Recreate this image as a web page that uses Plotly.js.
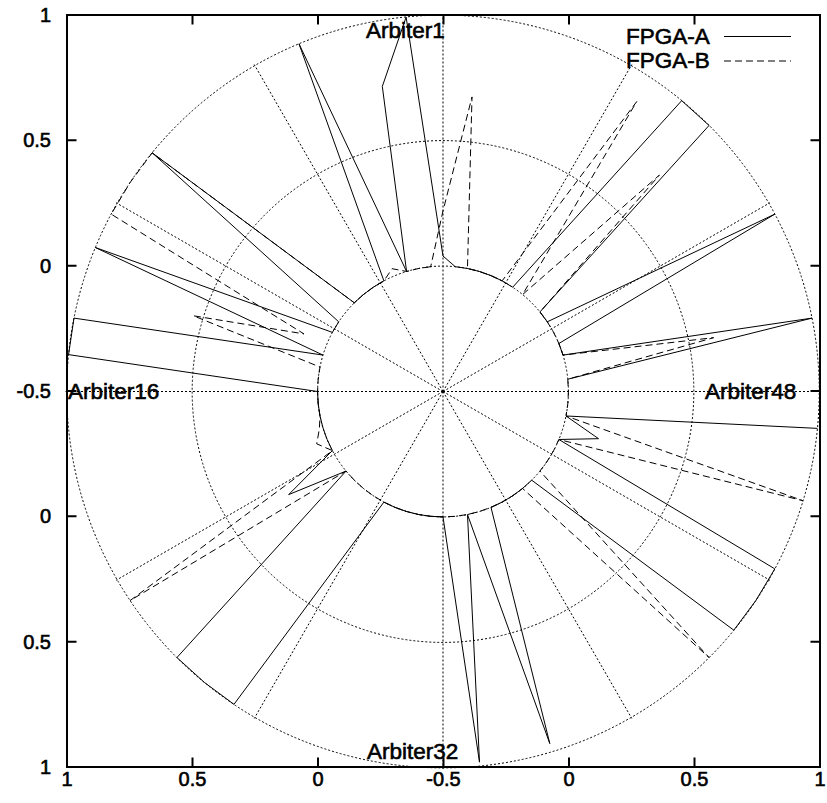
<!DOCTYPE html>
<html><head><meta charset="utf-8">
<script src="https://cdn.plot.ly/plotly-3.0.1.min.js"></script>
<style>
html,body{margin:0;padding:0;background:#fff}
#chart svg text{stroke:#000;stroke-width:0.6px;paint-order:stroke}
</style>
</head><body>
<div id="chart" style="width:827px;height:803px"></div>
<script>
// arbiter index (angle = index * 360/64, counter-clockwise from top)
const arbiters = [1,2,3,4,5,6,7,8,9,10,11,12,13,14,15,16,17,18,19,20,21,22,23,24,25,26,27,28,29,30,31,32,
                  33,34,35,36,37,38,39,40,41,42,43,44,45,46,47,48,49,50,51,52,53,54,55,56,57,58,59,60,61,62,63,64];
const fpgaA = [1.0,0.74,0,1.0,0,0,0,0,1.0,0,0,1.0,0,1.0,1.0,0,
               0,0,0,0,0,0.24,0,1.0,1.0,1.0,0,0,0,0,0,0,
               0.985,0,0.967,0,0,0,0,0,1.0,1.0,1.0,0,0.148,0,1.0,null,
               0,1.0,0,0,1.0,0,0,1.0,1.0,0,0,0,0,0,0,0.04];
const fpgaB = [0,0,0,0.03,0,0,0,0,1.0,1.0,1.0,0.1,0.54,0,0,0,
               0,0,0.015,0.045,0,1.0,0,0,0,0,0,0,0,0,0,0,
               0,0,0,0,0,0,0,1.0,0,0,0,0,1.0,0,0,0,
               0,0.6,0,0,0,0,0,0.72,0,0.89,0,0,0,0,0.68,0.22];
const seriesNames = ['FPGA-A','FPGA-B'];
const axisRange = [-1.5,1.5];
const axisTickVals = [-1.5,-1,-0.5,0,0.5,1,1.5];
const axisTickText = ['1','0.5','0','-0.5','0','0.5','1'];
const radialRange = [-0.5,1.005];
const radialGrid = [0,0.5,1];
const spokeAngles = [0,30,60,90,120,150,180,210,240,270,300,330];
const arbiterLabels = ['Arbiter1','Arbiter16','Arbiter32','Arbiter48'];

const nArb = arbiters.length;
const theta = arbiters.map(a => a*360/nArb);
const close = arr => arr.concat([arr[0]]);
const thetaC = theta.concat([theta[0]+360]);

// plot area: x 65..821 (756px), y 14..769 (755px); frame at 67..820 / 15..767
const ML = 65, MT = 14, PW = 756, PH = 755;
const px = (x) => (x-ML)/PW, py = (y) => (MT+PH-y)/PH;
const FX = [67, 820], FY = [767, 15];
const xDom = [px(FX[0]), px(FX[1])], yDom = [py(FY[0]), py(FY[1])];
const [r0, r1] = axisRange;
const tickPx = v => FX[0] + (v-r0)/(r1-r0)*(FX[1]-FX[0]);
const tickPy = v => FY[0] - (v-r0)/(r1-r0)*(FY[0]-FY[1]);

const FONT = 'Liberation Sans, Arial, sans-serif';
const traces = [
  {type:'scatter', x:[0], y:[0], mode:'markers', marker:{opacity:0, size:1}, showlegend:false, hoverinfo:'skip'},
  {type:'scatterpolar', r:close(fpgaA), theta:thetaC, mode:'lines', connectgaps:false,
   name:seriesNames[0], showlegend:false, line:{color:'#000', width:1}},
  {type:'scatterpolar', r:close(fpgaB), theta:thetaC, mode:'lines', connectgaps:false,
   name:seriesNames[1], showlegend:false, line:{color:'#000', width:1, dash:'7px,4px'}}
];

const axisCommon = {
  range:axisRange, tickvals:axisTickVals, ticktext:axisTickText,
  showgrid:false, zeroline:false, showline:false, ticks:'',
  tickfont:{family:FONT, size:20, color:'#000'}, fixedrange:true
};

const annotations = [
  {text:arbiterLabels[0], x:px(405), y:py(31), xanchor:'center', yanchor:'middle'},
  {text:arbiterLabels[1], x:px(66), y:py(391), xanchor:'left', yanchor:'middle'},
  {text:arbiterLabels[2], x:px(412.5), y:py(751.5), xanchor:'center', yanchor:'middle'},
  {text:arbiterLabels[3], x:px(798), y:py(391), xanchor:'right', yanchor:'middle'},
  {text:seriesNames[0], x:px(712), y:py(37), xanchor:'right', yanchor:'middle'},
  {text:seriesNames[1], x:px(712), y:py(61), xanchor:'right', yanchor:'middle'}
].map(a => Object.assign({xref:'paper', yref:'paper', showarrow:false,
   font:{family:FONT, size:22.5, color:'#000'}}, a));

// border frame (box of an empty annotation) and inward ticks (arrow-less lines)
const BW = 2;
annotations.push({xref:'paper', yref:'paper', showarrow:false, text:' ',
  x:px((FX[0]+FX[1])/2), y:py((FY[0]+FY[1])/2), xanchor:'center', yanchor:'middle',
  width:(FX[1]-FX[0]) - BW, height:(FY[0]-FY[1]) - BW, borderpad:0, borderwidth:BW, bordercolor:'#000',
  font:{size:1}});
const tickAnn = (X, Y, ax, ay) => ({xref:'paper', yref:'paper', x:px(X), y:py(Y), text:' ',
  showarrow:true, arrowhead:0, arrowwidth:2, arrowcolor:'#000', ax:ax, ay:ay, standoff:0, startstandoff:0,
  width:1, height:1, borderpad:0, borderwidth:0, font:{size:1}});
axisTickVals.slice(1,-1).forEach(v => {
  const X = tickPx(v), Y = tickPy(v);
  annotations.push(tickAnn(X, FY[0], 0, -10));
  annotations.push(tickAnn(X, FY[1], 0, 10));
  annotations.push(tickAnn(FX[0], Y, 10, 0));
  annotations.push(tickAnn(FX[1], Y, -10, 0));
});

const shapes = [
  {type:'line', xref:'paper', yref:'paper', x0:px(724), x1:px(791), y0:py(36.5), y1:py(36.5), line:{color:'#000', width:1}},
  {type:'line', xref:'paper', yref:'paper', x0:px(724), x1:px(791), y0:py(61), y1:py(61), line:{color:'#000', width:1, dash:'7px,4px'}}
];

const layout = {
  width:827, height:803, autosize:false,
  margin:{l:ML, r:827-ML-PW, t:MT, b:803-MT-PH, pad:0},
  paper_bgcolor:'#fff', plot_bgcolor:'rgba(0,0,0,0)',
  showlegend:false,
  xaxis:Object.assign({domain:xDom, ticklabelstandoff:-2}, axisCommon),
  yaxis:Object.assign({domain:yDom, ticklabelstandoff:15}, axisCommon),
  polar:{
    domain:{x:[0,1], y:[0,1]},
    bgcolor:'rgba(0,0,0,0)',
    radialaxis:{range:radialRange, tickvals:radialGrid, showticklabels:false, ticks:'', showline:false,
                gridcolor:'#000', gridwidth:1, griddash:'2px,2px'},
    angularaxis:{rotation:90, direction:'counterclockwise', tickvals:spokeAngles, showticklabels:false,
                 ticks:'', showline:false, gridcolor:'#000', gridwidth:1, griddash:'2px,2px'}
  },
  annotations:annotations,
  shapes:shapes
};
Plotly.newPlot('chart', traces, layout, {displayModeBar:false, staticPlot:true});
</script>
</body></html>
